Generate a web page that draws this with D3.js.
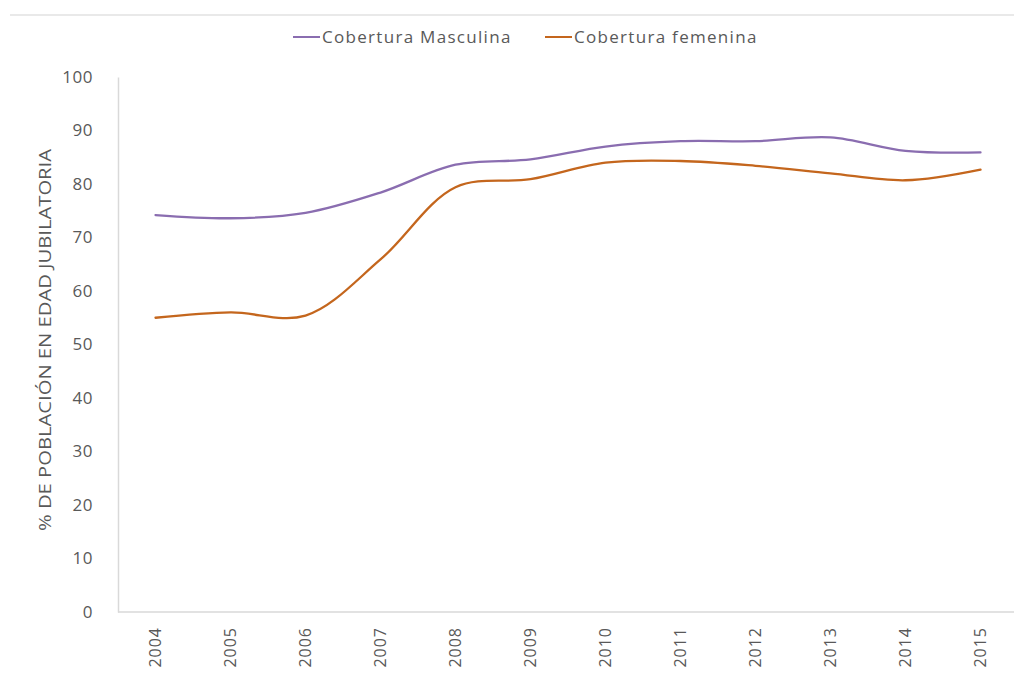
<!DOCTYPE html>
<html>
<head>
<meta charset="utf-8">
<script src="https://cdn.jsdelivr.net/npm/d3@7/dist/d3.min.js"></script>
<style>
  html, body { margin: 0; padding: 0; background: #fff; }
  svg { display: block; }
</style>
</head>
<body>
<svg id="chart" width="1014" height="675"></svg>
<script>
// data
const years = ['2004', '2005', '2006', '2007', '2008', '2009', '2010', '2011', '2012', '2013', '2014', '2015'];
const masculina = [74.2, 73.6, 74.6, 78.4, 83.6, 84.6, 87.0, 88.0, 88.0, 88.7, 86.2, 85.9];
const femenina = [55.0, 56.0, 55.4, 65.9, 79.4, 80.9, 84.0, 84.3, 83.4, 82.0, 80.7, 82.7];
const yTicks = [0, 10, 20, 30, 40, 50, 60, 70, 80, 90, 100];

const series = [
  { name: 'Cobertura Masculina', values: masculina, color: '#8a6db0' },
  { name: 'Cobertura femenina', values: femenina, color: '#c4661d' }
];

const W = 1014, H = 675;
const plot = { left: 118, right: 1018, top: 77, bottom: 612 };
const FONT = '"Open Sans", "Noto Sans", sans-serif';
const GREY = '#595959';
const AXIS = '#d9d9d9';

const svg = d3.select('#chart');

// thin rule of the page above the chart
svg.append('line')
  .attr('x1', 10).attr('x2', W).attr('y1', 15).attr('y2', 15)
  .attr('stroke', '#e2e2e2').attr('stroke-width', 1.5);

const x = d3.scaleBand().domain(years).range([plot.left, plot.right]);
const y = d3.scaleLinear().domain([0, 100]).range([plot.bottom, plot.top]);
const cx = d => x(d) + x.bandwidth() / 2;

// y axis
const yAxis = svg.append('g')
  .attr('transform', `translate(${plot.left},0)`)
  .call(d3.axisLeft(y).tickValues(yTicks).tickSize(0).tickPadding(25));
yAxis.select('.domain').attr('stroke', AXIS).attr('stroke-width', 1.5);
yAxis.selectAll('text')
  .attr('fill', GREY).attr('font-family', FONT).attr('font-size', 17)
  .attr('letter-spacing', 0.5);

// x axis
const xAxis = svg.append('g')
  .attr('transform', `translate(0,${plot.bottom})`)
  .call(d3.axisBottom(x).tickSize(0));
xAxis.select('.domain').attr('stroke', AXIS).attr('stroke-width', 1.5)
  .attr('d', `M${plot.left},0H${plot.right}`);
xAxis.selectAll('text')
  .attr('fill', GREY).attr('font-family', FONT).attr('font-size', 16)
  .attr('letter-spacing', 1)
  .attr('text-anchor', 'end')
  .attr('transform', 'rotate(-90)')
  .attr('x', -15).attr('y', 0).attr('dy', '0.35em');

// y axis title
svg.append('text')
  .attr('transform', 'translate(51,340) rotate(-90)')
  .attr('text-anchor', 'middle')
  .attr('fill', GREY).attr('font-family', FONT).attr('font-size', 16)
  .attr('textLength', 382).attr('lengthAdjust', 'spacingAndGlyphs')
  .text('% DE POBLACIÓN EN EDAD JUBILATORIA');

// lines (smoothed like the original spreadsheet chart)
const line = d3.line()
  .x((d, i) => cx(years[i]))
  .y(d => y(d))
  .curve(d3.curveCatmullRom.alpha(0.5));

svg.append('g').selectAll('path').data(series).join('path')
  .attr('d', d => line(d.values))
  .attr('fill', 'none')
  .attr('stroke', d => d.color)
  .attr('stroke-width', 2.3)
  .attr('stroke-linecap', 'round');

// legend
const legendPos = [293, 545];
const legend = svg.append('g').selectAll('g').data(series).join('g')
  .attr('transform', (d, i) => `translate(${legendPos[i]},37)`);
legend.append('line')
  .attr('x1', 0).attr('x2', 27).attr('y1', 0).attr('y2', 0)
  .attr('stroke', d => d.color).attr('stroke-width', 2);
legend.append('text')
  .attr('x', 29).attr('dy', '0.35em')
  .attr('fill', GREY).attr('font-family', FONT).attr('font-size', 17)
  .attr('letter-spacing', 1.3)
  .text(d => d.name);
</script>
</body>
</html>
